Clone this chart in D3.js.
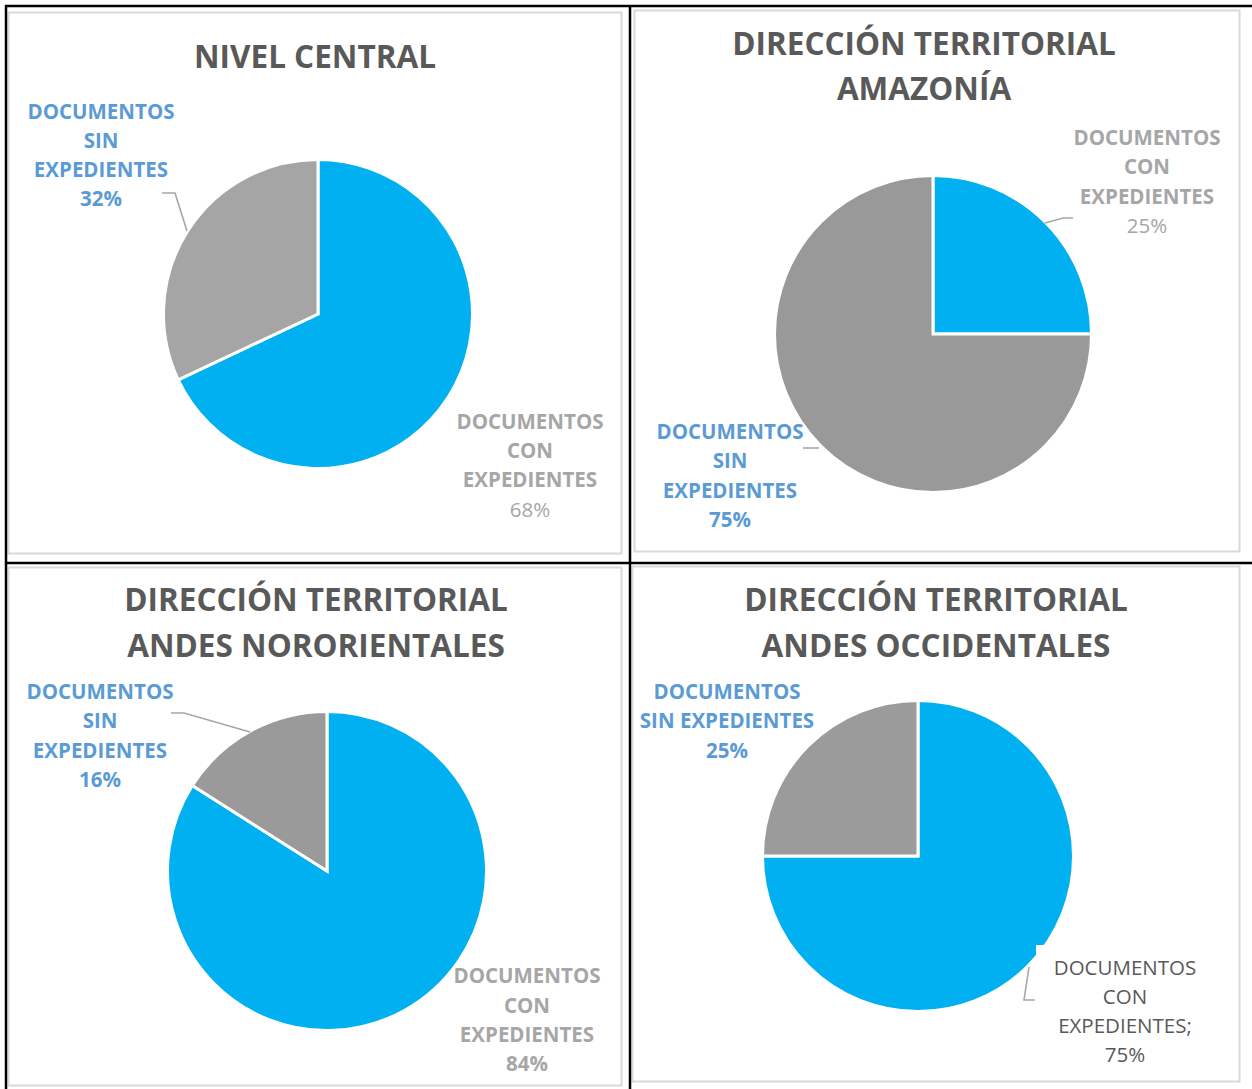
<!DOCTYPE html>
<html lang="es">
<head>
<meta charset="utf-8">
<title>Documentos con y sin expedientes</title>
<script src="https://cdn.jsdelivr.net/npm/d3@7"></script>
<style>
  html, body { margin: 0; padding: 0; background: #ffffff; }
  svg { display: block; }
  text { font-family: "Open Sans", "Noto Sans", sans-serif; }
</style>
</head>
<body>
<svg id="chart" width="1252" height="1089"></svg>
<script>
// Data
const panelTitles = [
  ["NIVEL CENTRAL"],
  ["DIRECCIÓN TERRITORIAL", "AMAZONÍA"],
  ["DIRECCIÓN TERRITORIAL", "ANDES NORORIENTALES"],
  ["DIRECCIÓN TERRITORIAL", "ANDES OCCIDENTALES"]
];
const categories = ["DOCUMENTOS CON EXPEDIENTES", "DOCUMENTOS SIN EXPEDIENTES"];
const conExpedientes = [68, 25, 84, 75];
const sinExpedientes = [32, 75, 16, 25];

// Layout of each panel
const layout = [
  {
    frame: [8.5, 12.5, 613, 541], cx: 318, cy: 314, r: 154.5, grey: "#a5a5a5",
    titleX: 315, titleY: [57],
    labels: [
      { cat: 0, x: 530, y: [422, 451, 480, 510], words: [["DOCUMENTOS"], ["CON"], ["EXPEDIENTES"]], sep: "",
        color: "#a6a6a6", boldText: true, boldPct: false, leader: null },
      { cat: 1, x: 101, y: [112, 141, 170, 199], words: [["DOCUMENTOS"], ["SIN"], ["EXPEDIENTES"]], sep: "",
        color: "#5b9bd5", boldText: true, boldPct: true, leader: [[162, 193], [175, 193], [187, 231]] }
    ]
  },
  {
    frame: [634.5, 10.5, 605, 541], cx: 933, cy: 334, r: 158.5, grey: "#999999",
    titleX: 924, titleY: [44, 89],
    labels: [
      { cat: 0, x: 1147, y: [138, 167, 197, 226], words: [["DOCUMENTOS"], ["CON"], ["EXPEDIENTES"]], sep: "",
        color: "#a6a6a6", boldText: true, boldPct: false, leader: [[1045, 223], [1063, 218], [1073, 218]] },
      { cat: 1, x: 730, y: [432, 461, 491, 520], words: [["DOCUMENTOS"], ["SIN"], ["EXPEDIENTES"]], sep: "",
        color: "#5b9bd5", boldText: true, boldPct: true, leader: [[803, 448], [819, 448]] }
    ]
  },
  {
    frame: [8.5, 567.5, 613, 518], cx: 327, cy: 871, r: 159.5, grey: "#9a9a9a",
    titleX: 316, titleY: [600, 646],
    labels: [
      { cat: 0, x: 527, y: [976, 1006, 1035, 1064], words: [["DOCUMENTOS"], ["CON"], ["EXPEDIENTES"]], sep: "",
        color: "#a6a6a6", boldText: true, boldPct: true, leader: null },
      { cat: 1, x: 100, y: [692, 721, 751, 780], words: [["DOCUMENTOS"], ["SIN"], ["EXPEDIENTES"]], sep: "",
        color: "#5b9bd5", boldText: true, boldPct: true, leader: [[171, 713], [184, 713], [250, 732]] }
    ]
  },
  {
    frame: [632.5, 566.5, 607, 515], cx: 918, cy: 856, r: 155.5, grey: "#9b9b9b",
    titleX: 936, titleY: [600, 646],
    labels: [
      { cat: 0, x: 1125, y: [968, 997, 1026, 1055], words: [["DOCUMENTOS"], ["CON"], ["EXPEDIENTES"]], sep: ";",
        color: "#595959", boldText: false, boldPct: false, leader: [[1029, 967], [1024, 1000], [1035, 1000]],
        box: [1036, 945, 180, 125] },
      { cat: 1, x: 727, y: [692, 721, 751], words: [["DOCUMENTOS"], ["SIN", "EXPEDIENTES"]], sep: "",
        color: "#5b9bd5", boldText: true, boldPct: true, leader: null }
    ]
  }
];

const svg = d3.select("#chart");
const blue = "#00b0f0";

const pie = d3.pie().sort(null).value(d => d.value).startAngle(0).endAngle(2 * Math.PI);

// Panel frames
layout.forEach(p => {
  svg.append("rect")
    .attr("x", p.frame[0]).attr("y", p.frame[1])
    .attr("width", p.frame[2]).attr("height", p.frame[3])
    .attr("fill", "#ffffff").attr("stroke", "#d9d9d9").attr("stroke-width", 2);
});

layout.forEach((p, i) => {
  const g = svg.append("g");
  const values = [
    { cat: 0, value: conExpedientes[i] },
    { cat: 1, value: sinExpedientes[i] }
  ];
  const colors = [blue, p.grey];
  const arc = d3.arc().innerRadius(0).outerRadius(p.r);

  // Title
  const title = g.append("text")
    .attr("text-anchor", "middle")
    .attr("fill", "#595959")
    .attr("font-weight", "bold")
    .attr("font-size", 31.5);
  panelTitles[i].forEach((line, k) => {
    title.append("tspan").attr("x", p.titleX).attr("y", p.titleY[k]).attr("dy", "0.36em").text(line);
  });

  // Slices
  g.append("g")
    .attr("transform", `translate(${p.cx},${p.cy})`)
    .selectAll("path")
    .data(pie(values))
    .join("path")
    .attr("d", arc)
    .attr("fill", d => colors[d.data.cat])
    .attr("stroke", "#ffffff")
    .attr("stroke-width", 3)
    .attr("stroke-linejoin", "miter");

  // Data labels
  p.labels.forEach(lb => {
    if (lb.box) {
      g.append("rect")
        .attr("x", lb.box[0]).attr("y", lb.box[1])
        .attr("width", lb.box[2]).attr("height", lb.box[3])
        .attr("fill", "#ffffff");
    }
    if (lb.leader) {
      g.append("path")
        .attr("d", d3.line()(lb.leader))
        .attr("fill", "none")
        .attr("stroke", "#a6a6a6")
        .attr("stroke-width", 1.6);
    }
    const val = lb.cat === 0 ? conExpedientes[i] : sinExpedientes[i];
    const lines = lb.words.map(w => w.join(" "));
    lines[lines.length - 1] += lb.sep;
    lines.push(val + "%");
    const t = g.append("text")
      .attr("text-anchor", "middle")
      .attr("fill", lb.color)
      .attr("font-size", 20.5);
    lines.forEach((line, k) => {
      const isPct = k === lines.length - 1;
      t.append("tspan")
        .attr("x", lb.x).attr("y", lb.y[k]).attr("dy", "0.36em")
        .attr("font-weight", (isPct ? lb.boldPct : lb.boldText) ? "bold" : "normal")
        .text(line);
    });
  });
});

// Black grid lines of the table
const grid = [
  [[5, 6], [1252, 6]],
  [[5, 563], [1252, 563]],
  [[6, 5], [6, 1089]],
  [[630, 5], [630, 1089]]
];
svg.append("g").selectAll("path")
  .data(grid)
  .join("path")
  .attr("d", d => d3.line()(d))
  .attr("stroke", "#000000")
  .attr("stroke-width", 2.5)
  .attr("fill", "none");
</script>
</body>
</html>
